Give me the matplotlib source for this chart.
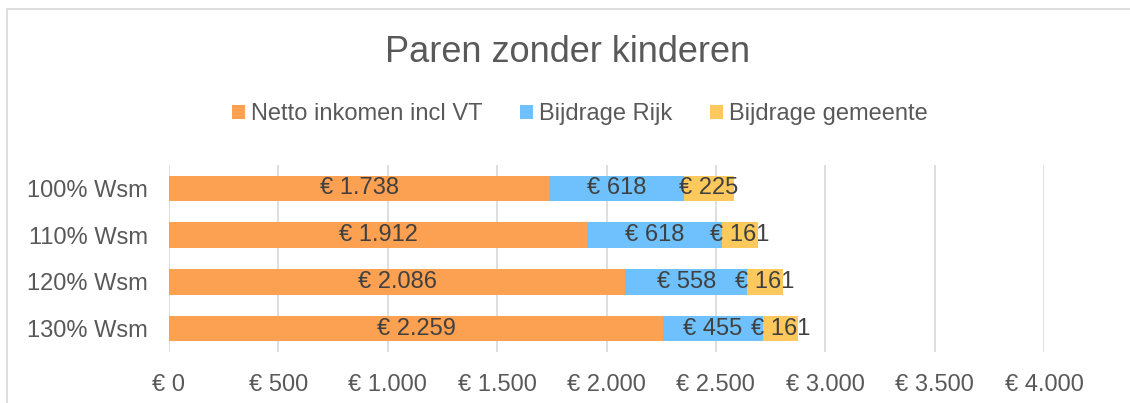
import numpy as np
import matplotlib.pyplot as plt
from matplotlib.patches import Rectangle
from matplotlib.ticker import FuncFormatter

plt.rcParams['font.family'] = ['Liberation Sans', 'DejaVu Sans']

categories = ['100% Wsm', '110% Wsm', '120% Wsm', '130% Wsm']
netto = [1738, 1912, 2086, 2259]
rijk = [618, 618, 558, 455]
gemeente = [225, 161, 161, 161]
series_names = ['Netto inkomen incl VT', 'Bijdrage Rijk', 'Bijdrage gemeente']
colors = ['#FCA052', '#6EC1FC', '#FEC95C']


def euro(v):
    # Dutch thousands separator
    return '€ ' + f'{int(round(v)):,}'.replace(',', '.')


fig = plt.figure(figsize=(11.3, 4.03), dpi=100)
ax = fig.add_axes([169 / 1130, 1 - 352 / 403, 875 / 1130, 187 / 403])

# light chart frame
fig.patches.append(Rectangle((7 / 1130, -0.1), 1.2, 1.1 - 9 / 403, transform=fig.transFigure,
                             fill=False, edgecolor='#D9D9D9', linewidth=1.2, zorder=0))

y = np.arange(len(categories))
left = np.zeros(len(categories))
for vals, name, col in zip([netto, rijk, gemeente], series_names, colors):
    bars = ax.barh(y, vals, left=left, height=0.55, color=col, label=name, zorder=2)
    for b, v in zip(bars, vals):
        ax.text(b.get_x() + b.get_width() / 2, b.get_y() + b.get_height() / 2, euro(v),
                ha='center', va='center', fontsize=17, color='#404040', zorder=3)
    left += np.array(vals)

ax.set_ylim(len(categories) - 0.5, -0.5)
ax.set_xlim(0, 4000)
ax.set_yticks(y)
ax.set_yticklabels(categories, fontsize=17, color='#595959')
ax.set_xticks(np.arange(0, 4001, 500))
ax.xaxis.set_major_formatter(FuncFormatter(lambda v, p: euro(v)))
ax.tick_params(axis='x', labelsize=17, labelcolor='#595959', length=0, pad=16)
ax.tick_params(axis='y', length=0, pad=15)
ax.grid(axis='x', color='#D9D9D9', linewidth=1.2, zorder=0)
ax.set_axisbelow(True)
for s in ax.spines.values():
    s.set_visible(False)

fig.text(0.502, 1 - 52 / 403, 'Paren zonder kinderen', ha='center', va='center',
         fontsize=26, color='#595959')

fig.legend(loc='center', bbox_to_anchor=(0.513, 1 - 114 / 403), ncol=3, frameon=False,
           fontsize=17, labelcolor='#595959', handlelength=0.55, handleheight=0.55,
           handletextpad=0.25, columnspacing=1.6)

fig.savefig('out.png', dpi=100)
